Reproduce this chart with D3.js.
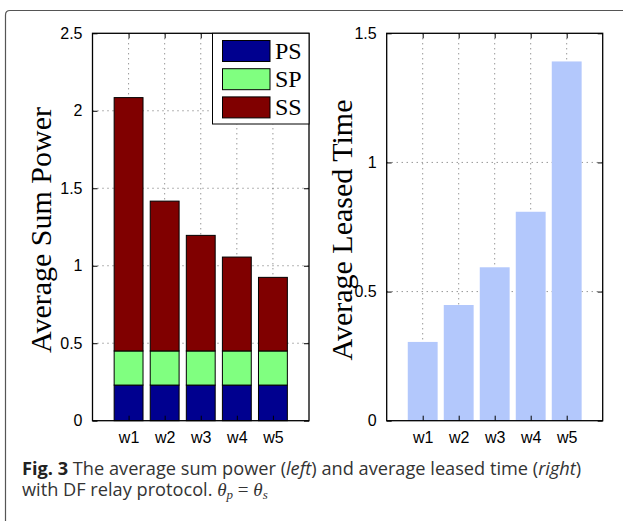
<!DOCTYPE html>
<html>
<head>
<meta charset="utf-8">
<script src="https://cdn.jsdelivr.net/npm/d3@7"></script>
<style>
  body { margin: 0; background: #fff; }
  svg { display: block; }
  .ylab { font-family: "Liberation Serif", "Times New Roman", serif; font-size: 30px; }
  .legend text { font-family: "Liberation Serif", "Times New Roman", serif; font-size: 24px; }
  .caption { font-family: "Open Sans", sans-serif; font-size: 18.2px; fill: #333; }
  .math { font-family: "Liberation Serif", serif; font-style: italic; }
</style>
</head>
<body>
<svg id="chart" width="623" height="521"></svg>
<script>
// categories and values
const categories = ["w1", "w2", "w3", "w4", "w5"];
const psValues = [0.23, 0.23, 0.23, 0.23, 0.23];
const spValues = [0.22, 0.22, 0.22, 0.22, 0.22];
const ssValues = [1.635, 0.967, 0.746, 0.606, 0.475];
const leasedValues = [0.305, 0.448, 0.594, 0.809, 1.391];
const seriesNames = ["PS", "SP", "SS"];
const leftTicks = [0, 0.5, 1, 1.5, 2, 2.5];
const rightTicks = [0, 0.5, 1, 1.5];

const COLORS = { PS: "#00008f", SP: "#80ff80", SS: "#800000", leased: "#b3c8fc" };
const TICK_FONT = "'Liberation Sans', Arial, sans-serif";

const svg = d3.select("#chart");

// card border (rounded top-left, cropped right/bottom)
svg.append("path")
    .attr("d", "M5.5,521 L5.5,15 Q5.5,10.5 10,10.5 L623,10.5")
    .attr("fill", "none")
    .attr("stroke", "#555")
    .attr("stroke-width", 1.2);

// generic panel builder: scales + dotted grid
function panel(opts) {
    const x = d3.scaleLinear().domain([0, 6]).range([opts.left, opts.right]);
    const y = d3.scaleLinear().domain([0, opts.ymax]).range([opts.bottom, opts.top]);
    const g = svg.append("g");

    g.append("g").selectAll("line")
        .data(d3.range(1, 6))
        .join("line")
        .attr("x1", d => x(d)).attr("x2", d => x(d))
        .attr("y1", opts.top).attr("y2", opts.bottom)
        .attr("stroke", "#444").attr("stroke-width", 0.8)
        .attr("stroke-dasharray", "1,4");
    g.append("g").selectAll("line")
        .data(opts.ticks.filter(t => t > 0 && t < opts.ymax))
        .join("line")
        .attr("x1", opts.left).attr("x2", opts.right)
        .attr("y1", d => y(d)).attr("y2", d => y(d))
        .attr("stroke", "#444").attr("stroke-width", 0.8)
        .attr("stroke-dasharray", "1,4");

    return { x, y, g };
}

function styleTicks(a) {
    a.attr("font-family", TICK_FONT).attr("font-size", 16);
    a.select(".domain").remove();
    a.selectAll(".tick line").attr("stroke", "#000");
    a.selectAll(".tick text").attr("fill", "#000");
}

function axes(p, opts) {
    const { x, y, g } = p;
    // y axis, ticks inward like matlab
    g.append("g")
        .attr("transform", `translate(${opts.left},0)`)
        .call(d3.axisLeft(y).tickValues(opts.ticks).tickFormat(d3.format("")).tickSize(-5).tickPadding(10))
        .call(styleTicks);
    // x axis
    g.append("g")
        .attr("transform", `translate(0,${opts.bottom})`)
        .call(d3.axisBottom(x).tickValues(d3.range(1, 6)).tickFormat(i => categories[i - 1]).tickSize(-5).tickPadding(9))
        .call(styleTicks)
        .call(a => a.selectAll(".tick text").attr("dy", "0.85em"));
    // box ticks on top/right
    g.append("g")
        .attr("transform", `translate(${opts.right},0)`)
        .call(d3.axisRight(y).tickValues(opts.ticks).tickFormat("").tickSize(-5))
        .call(styleTicks);
    g.append("g")
        .attr("transform", `translate(0,${opts.top})`)
        .call(d3.axisTop(x).tickValues(d3.range(1, 6)).tickFormat("").tickSize(-5))
        .call(styleTicks);
    // frame
    g.append("rect")
        .attr("x", opts.left).attr("y", opts.top)
        .attr("width", opts.right - opts.left).attr("height", opts.bottom - opts.top)
        .attr("fill", "none").attr("stroke", "#000").attr("stroke-width", 1.3);
    // y label
    g.append("text")
        .attr("class", "ylab")
        .attr("transform", `translate(${opts.labelX},${opts.labelY}) rotate(-90)`)
        .attr("text-anchor", "middle")
        .text(opts.label);
}

// Left: stacked sum power
// ----------------------------------------
const leftOpts = { left: 92.5, right: 309, top: 33.3, bottom: 420.7, ymax: 2.5, ticks: leftTicks,
                   label: "Average Sum Power", labelX: 51, labelY: 230 };
const L = panel(leftOpts);
const stackData = categories.map((c, i) => ({ i: i + 1, PS: psValues[i], SP: spValues[i], SS: ssValues[i] }));
const stacked = d3.stack().keys(seriesNames)(stackData);
const barW = L.x(0.8) - L.x(0);
L.g.append("g").selectAll("g")
    .data(stacked)
    .join("g")
    .attr("fill", s => COLORS[s.key])
    .selectAll("rect")
    .data(s => s)
    .join("rect")
    .attr("x", d => L.x(d.data.i) - barW / 2)
    .attr("y", d => L.y(d[1]))
    .attr("width", barW)
    .attr("height", d => L.y(d[0]) - L.y(d[1]))
    .attr("stroke", "#000")
    .attr("stroke-width", 1);
axes(L, leftOpts);

// legend
const legend = L.g.append("g").attr("class", "legend");
legend.append("rect")
    .attr("x", 212.5).attr("y", 33.3).attr("width", 96.5).attr("height", 90.7)
    .attr("fill", "#fff").attr("stroke", "#000").attr("stroke-width", 1);
seriesNames.forEach((name, k) => {
    const yy = 40.5 + k * 28.2;
    legend.append("rect")
        .attr("x", 222.5).attr("y", yy).attr("width", 47.5).attr("height", 21)
        .attr("fill", COLORS[name]).attr("stroke", "#000").attr("stroke-width", 1);
    legend.append("text")
        .attr("x", 275).attr("y", yy + 18.5)
        .text(name);
});

// Right: leased time
// ----------------------------------------
const rightOpts = { left: 386.7, right: 602.7, top: 33.3, bottom: 420.7, ymax: 1.5, ticks: rightTicks,
                    label: "Average Leased Time", labelX: 352, labelY: 230 };
const R = panel(rightOpts);
const barW2 = R.x(0.83) - R.x(0);
R.g.append("g").selectAll("rect")
    .data(leasedValues)
    .join("rect")
    .attr("x", (d, i) => R.x(i + 1) - barW2 / 2)
    .attr("y", d => R.y(d))
    .attr("width", barW2)
    .attr("height", d => R.y(0) - R.y(d))
    .attr("fill", COLORS.leased);
axes(R, rightOpts);

// caption (two lines in one text element)
const cap = svg.append("text").attr("class", "caption").attr("x", 22).attr("y", 475);
cap.append("tspan").attr("font-weight", "bold").attr("fill", "#222").text("Fig. 3");
cap.append("tspan").text(" The average sum power (");
cap.append("tspan").attr("font-style", "italic").text("left");
cap.append("tspan").text(") and average leased time (");
cap.append("tspan").attr("font-style", "italic").text("right");
cap.append("tspan").text(")");
cap.append("tspan").attr("x", 22).attr("y", 495.5).text("with DF relay protocol. ");
cap.append("tspan").attr("class", "math").attr("font-size", 19).text("θ");
cap.append("tspan").attr("class", "math").attr("font-size", 13).attr("dy", 3).text("p");
cap.append("tspan").attr("font-family", "Liberation Serif").attr("font-size", 19).attr("dy", -3).text(" = ");
cap.append("tspan").attr("class", "math").attr("font-size", 19).text("θ");
cap.append("tspan").attr("class", "math").attr("font-size", 13).attr("dy", 3).text("s");
</script>
</body>
</html>
